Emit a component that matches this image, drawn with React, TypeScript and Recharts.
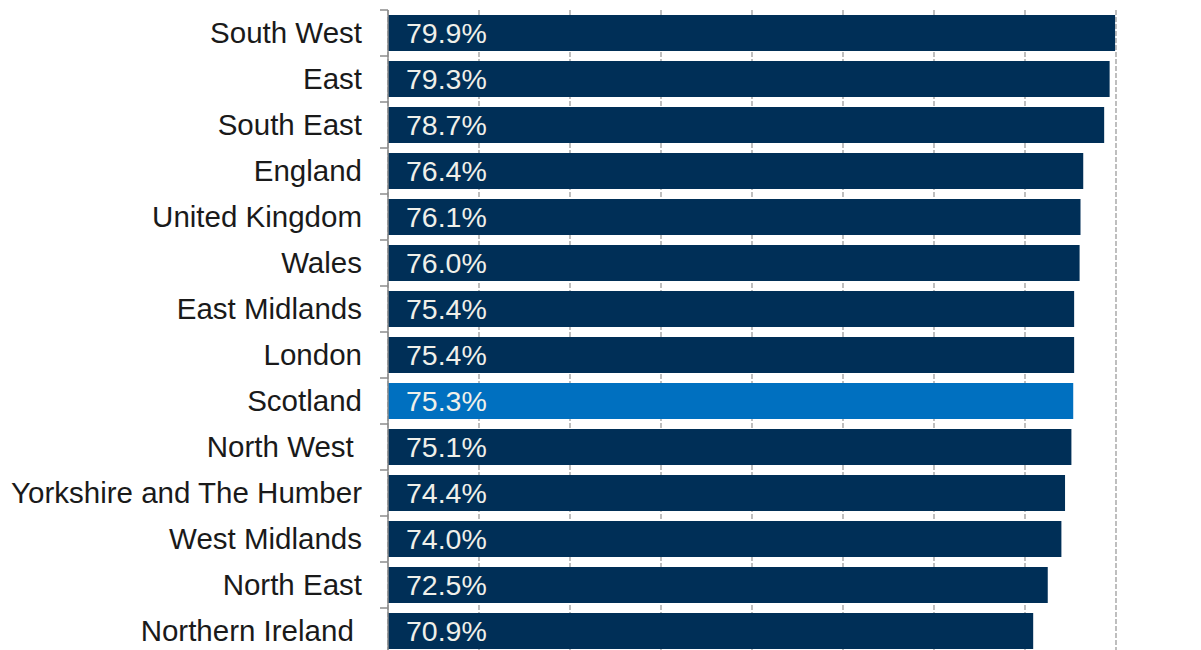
import React from 'react';
import { BarChart, Bar, XAxis, YAxis, CartesianGrid, LabelList, Cell } from 'recharts';

const categories = [
  'South West', 'East', 'South East', 'England', 'United Kingdom', 'Wales',
  'East Midlands', 'London', 'Scotland', 'North West ', 'Yorkshire and The Humber',
  'West Midlands', 'North East', 'Northern Ireland ',
];
const values = [79.9, 79.3, 78.7, 76.4, 76.1, 76.0, 75.4, 75.4, 75.3, 75.1, 74.4, 74.0, 72.5, 70.9];
const highlight = 'Scotland';
const xTicks = [0, 10, 20, 30, 40, 50, 60, 70, 80];

const data = categories.map((name, i) => ({ name, value: values[i] }));

const CHART_W = 1201;
const CHART_H = 660;
const MARGIN = { top: 10, right: 85, bottom: 6, left: 0 };
const BAND = (CHART_H - MARGIN.top - MARGIN.bottom) / categories.length;
const FONT = '"Liberation Sans", Arial, sans-serif';

const YTick = (props: any) => {
  const { x, y, payload } = props;
  return (
    <g>
      <line x1={x - 8} x2={x} y1={y - BAND / 2} y2={y - BAND / 2} stroke="#8c8c8c" strokeWidth={1.5} />
      <text
        x={x - 26}
        y={y}
        dy="0.34em"
        textAnchor="end"
        fontFamily={FONT}
        fontSize={29.5}
        fill="#1a1a1a"
        style={{ whiteSpace: 'pre' }}
      >
        {payload.value}
      </text>
    </g>
  );
};

export default function App() {
  return (
    <div style={{ position: 'absolute', left: 0, top: 0, width: 1201, height: 650, overflow: 'hidden', background: '#fff' }}>
      <BarChart width={CHART_W} height={CHART_H} data={data} layout="vertical" margin={MARGIN}>
        <CartesianGrid horizontal={false} stroke="#b8b8b8" strokeWidth={1.8} strokeDasharray="5 2" />
        <XAxis type="number" domain={[0, 80]} ticks={xTicks} hide />
        <YAxis
          type="category"
          dataKey="name"
          width={388}
          tickSize={0}
          tickMargin={0}
          tickLine={false}
          axisLine={{ stroke: '#8c8c8c', strokeWidth: 1.5 }}
          tick={<YTick />}
          interval={0}
        />
        <Bar dataKey="value" barSize={36} isAnimationActive={false}>
          {data.map((d) => (
            <Cell key={d.name} fill={d.name === highlight ? '#0070c0' : '#002f57'} />
          ))}
          <LabelList
            dataKey="value"
            position="insideLeft"
            offset={18}
            formatter={(v: any) => `${Number(v).toFixed(1)}%`}
            fill="#f0f0ea"
            fontFamily={FONT}
            fontSize={28.5}
          />
        </Bar>
      </BarChart>
    </div>
  );
}
